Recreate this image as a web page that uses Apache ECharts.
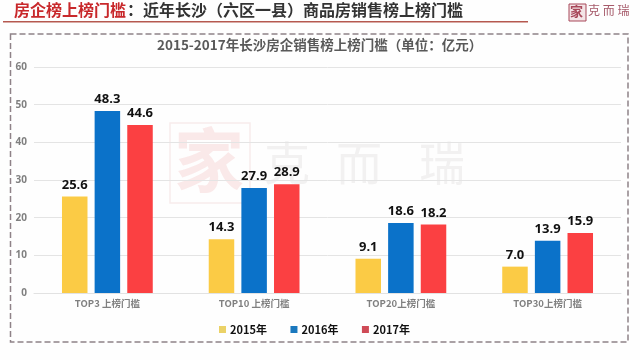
<!DOCTYPE html>
<html><head><meta charset="utf-8">
<style>html,body{margin:0;padding:0;background:#fff}#c{width:640px;height:360px}</style>
<script src="https://cdn.jsdelivr.net/npm/echarts@6/dist/echarts.min.js"></script>
</head><body><div id="c"></div>
<script>
const categories = ['TOP3 上榜门槛', 'TOP10 上榜门槛', 'TOP20上榜门槛', 'TOP30上榜门槛'];
const years = ['2015年', '2016年', '2017年'];
const v2015 = [25.6, 14.3, 9.1, 7.0];
const v2016 = [48.3, 27.9, 18.6, 13.9];
const v2017 = [44.6, 28.9, 18.2, 15.9];
const colors = ['#FBCB45', '#0B72C9', '#FB4042'];
const legendColors = ['#EBD267', '#1A78BE', '#CF4B57'];
const cjk = '"Noto Sans CJK SC","Noto Sans",sans-serif';
const chart = echarts.init(document.getElementById('c'), null, {renderer: 'canvas'});
const mk = (name, data, i) => ({
  name, type: 'bar', data, barWidth: 25.5, barGap: '28%', z: 3,
  itemStyle: {color: colors[i]},
  label: {show: true, position: 'top', distance: 5, color: '#111',
    fontFamily: '"Open Sans",sans-serif', fontWeight: 'bold', fontSize: 13,
    formatter: p => p.value.toFixed(1)}
});
chart.setOption({
  animation: false,
  backgroundColor: '#fefefe',
  grid: {left: 34, right: 19, top: 67, bottom: 67, containLabel: false},
  legend: {
    data: years.map((n, i) => ({name: n, itemStyle: {color: legendColors[i]}})),
    left: 214, top: 319, itemWidth: 7, itemHeight: 7, itemGap: 23.5, icon: 'rect',
    textStyle: {color: '#111', fontFamily: cjk, fontWeight: 'bold', fontSize: 11, padding: [0, 0, 0, -1]}
  },
  xAxis: {type: 'category', data: categories,
    axisLine: {lineStyle: {color: '#e2e2e2'}}, axisTick: {show: false},
    axisLabel: {color: '#808080', fontFamily: cjk, fontWeight: 'bold', fontSize: 9.5, margin: 6}},
  yAxis: {type: 'value', min: 0, max: 60, interval: 10,
    axisLine: {show: false}, axisTick: {show: false},
    splitLine: {lineStyle: {color: '#e4e4e4'}},
    axisLabel: {color: '#808080', fontFamily: '"Open Sans",sans-serif', fontWeight: 'bold', fontSize: 10, margin: 7}},
  series: [mk(years[0], v2015, 0), mk(years[1], v2016, 1), mk(years[2], v2017, 2)],
  graphic: [
    {type: 'text', left: 14, top: 2, z: 5, style: {text: '房企榜上榜门槛', fill: '#C8282B', font: 'bold 16px ' + cjk}},
    {type: 'text', left: 127, top: 2, z: 5, style: {text: '：近年长沙（六区一县）商品房销售榜上榜门槛', fill: '#333', font: 'bold 16px ' + cjk}},
    {type: 'rect', z: 4, shape: {x: 3, y: 21, width: 525, height: 1.5}, style: {fill: '#B5584F'}},
    {type: 'rect', z: 1, shape: {x: 10.5, y: 34, width: 617.5, height: 308},
      style: {fill: 'none', stroke: '#8F8288', lineWidth: 1.5, lineDash: [6, 3]}},
    {type: 'text', left: 157, top: 38, z: 5, style: {text: '2015-2017年长沙房企销售榜上榜门槛（单位：亿元）', fill: '#595959', font: 'bold 13.5px ' + cjk}},
    {type: 'rect', z: 5, shape: {x: 569, y: 4, width: 17, height: 17}, style: {fill: '#f3e4e6', stroke: '#A8485A', lineWidth: 1}},
    {type: 'text', left: 570, top: 5, z: 6, style: {text: '家', fill: '#A8485A', font: 'bold 13px ' + cjk}},
    {type: 'text', left: 588, top: 4, z: 5, style: {text: '克 而 瑞', fill: '#A65A6A', font: '12px ' + cjk}},
    {type: 'rect', z: 0, shape: {x: 170, y: 123, width: 80, height: 80}, style: {fill: 'none', stroke: '#f7ecec', lineWidth: 1.5}},
    {type: 'text', left: 174, top: 125, z: 0, style: {text: '家', fill: '#fae9e9', font: 'bold 70px ' + cjk}},
    {type: 'text', left: 264, top: 140, z: 0, style: {text: '克', fill: '#f2f1f1', font: '46px ' + cjk}},
    {type: 'text', left: 336, top: 140, z: 0, style: {text: '而', fill: '#f2f1f1', font: '46px ' + cjk}},
    {type: 'text', left: 419, top: 140, z: 0, style: {text: '瑞', fill: '#f2f1f1', font: '46px ' + cjk}}
  ]
});
</script></body></html>
